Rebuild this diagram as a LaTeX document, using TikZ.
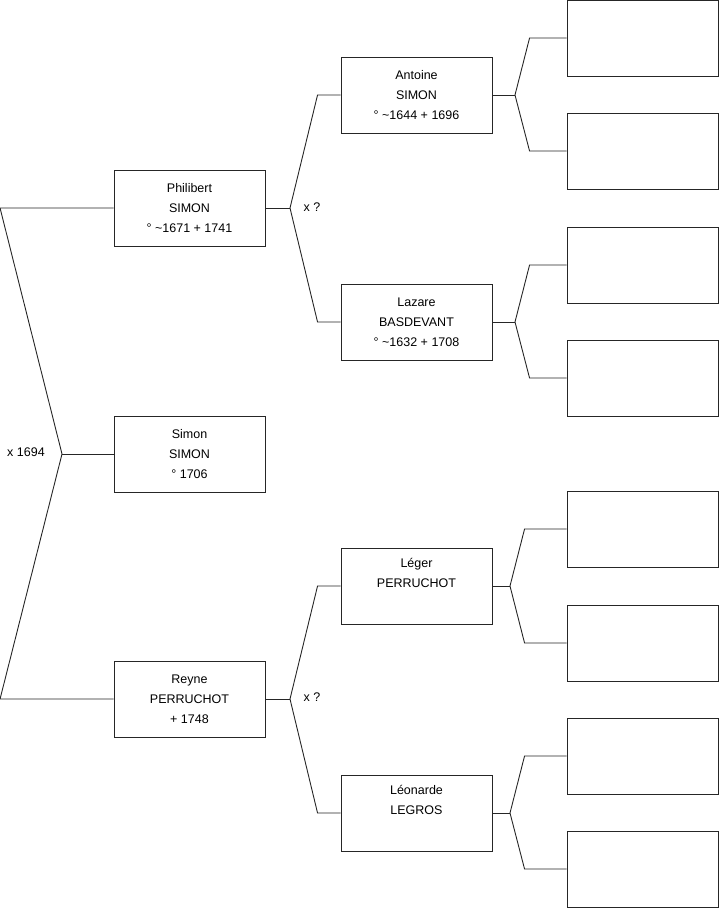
\documentclass[tikz,border=0pt]{standalone}
\usepackage{fontspec}
\setmainfont{Liberation Sans}
\usetikzlibrary{positioning}

\begin{document}
\begin{tikzpicture}[
  x=1pt, y=-1pt,
  person/.style={rectangle, draw=black!85, line width=0.9pt,
                 minimum width=151pt, minimum height=76pt, inner sep=0pt,
                 align=center, font=\fontsize{12.5}{20}\selectfont},
  link/.style={draw=black!85, line width=0.9pt},
  union/.style={font=\fontsize{12.5}{14}\selectfont, inner sep=0pt},
]
  \useasboundingbox (0,0) rectangle (719,908);

  % generation 1 and 2
  \node[person] (simon)   at (189.5,454) {Simon\\SIMON\\° 1706};
  \node[person] (phil)    at (189.5,208) {Philibert\\SIMON\\° \textasciitilde1671 + 1741};
  \node[person] (reyne)   at (189.5,699) {Reyne\\PERRUCHOT\\+ 1748};

  % generation 3
  \node[person] (antoine) at (416.5,95)  {Antoine\\SIMON\\° \textasciitilde1644 + 1696};
  \node[person] (lazare)  at (416.5,322) {Lazare\\BASDEVANT\\° \textasciitilde1632 + 1708};
  \node[person] (leger)   at (416.5,586) {Léger\\PERRUCHOT\\\strut};
  \node[person] (leonarde) at (416.5,813) {Léonarde\\LEGROS\\\strut};

  % generation 4 (empty)
  \node[person] (p1) at (642.5,38)  {};
  \node[person] (p2) at (642.5,151) {};
  \node[person] (p3) at (642.5,265) {};
  \node[person] (p4) at (642.5,378) {};
  \node[person] (p5) at (642.5,529) {};
  \node[person] (p6) at (642.5,643) {};
  \node[person] (p7) at (642.5,756) {};
  \node[person] (p8) at (642.5,869) {};

  % forks
  \coordinate (f0) at (62,454);
  \coordinate (f1) at (290,208);
  \coordinate (f2) at (290,699);
  \coordinate (f3) at (515,95);
  \coordinate (f4) at (515,322);
  \coordinate (f5) at (510,586);
  \coordinate (f6) at (510,813);

  \draw[link] (simon.west) -- (f0);
  \draw[link] (f0) -- ([xshift=-113.5pt]phil.west) -- (phil.west);
  \draw[link] (f0) -- ([xshift=-113.5pt]reyne.west) -- (reyne.west);
  \node[union] (u0) at (26,452) {x 1694};

  \draw[link] (phil.east) -- (f1);
  \draw[link] (f1) -- ([xshift=-23pt]antoine.west) -- (antoine.west);
  \draw[link] (f1) -- ([xshift=-23pt]lazare.west) -- (lazare.west);
  \node[union] (u1) at (312,207) {x ?};

  \draw[link] (reyne.east) -- (f2);
  \draw[link] (f2) -- ([xshift=-23pt]leger.west) -- (leger.west);
  \draw[link] (f2) -- ([xshift=-23pt]leonarde.west) -- (leonarde.west);
  \node[union] (u2) at (312,697) {x ?};

  \draw[link] (antoine.east) -- (f3);
  \draw[link] (f3) -- ([xshift=-37pt]p1.west) -- (p1.west);
  \draw[link] (f3) -- ([xshift=-37pt]p2.west) -- (p2.west);

  \draw[link] (lazare.east) -- (f4);
  \draw[link] (f4) -- ([xshift=-37pt]p3.west) -- (p3.west);
  \draw[link] (f4) -- ([xshift=-37pt]p4.west) -- (p4.west);

  \draw[link] (leger.east) -- (f5);
  \draw[link] (f5) -- ([xshift=-42pt]p5.west) -- (p5.west);
  \draw[link] (f5) -- ([xshift=-42pt]p6.west) -- (p6.west);

  \draw[link] (leonarde.east) -- (f6);
  \draw[link] (f6) -- ([xshift=-42pt]p7.west) -- (p7.west);
  \draw[link] (f6) -- ([xshift=-42pt]p8.west) -- (p8.west);
\end{tikzpicture}
\end{document}
